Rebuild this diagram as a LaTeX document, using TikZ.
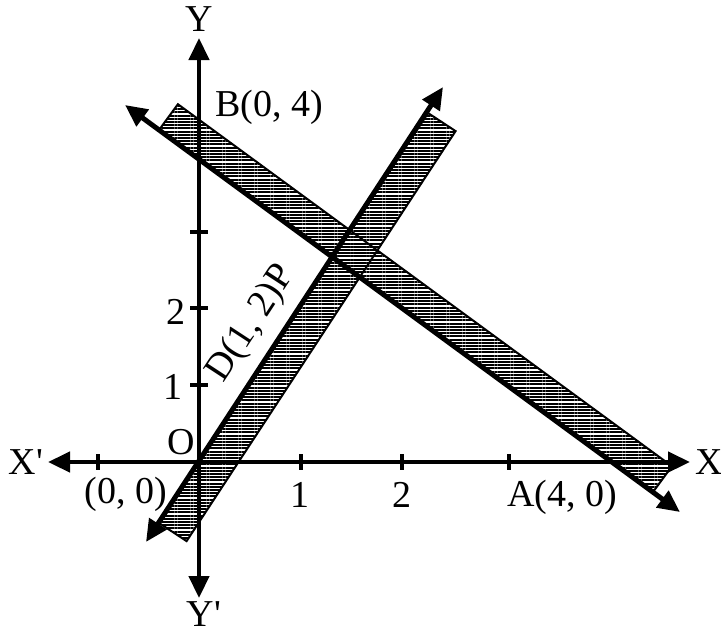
\documentclass[tikz,border=0pt]{standalone}
\usepackage{fontspec}
\setmainfont{Liberation Serif}
\usetikzlibrary{arrows.meta,patterns.meta}
\begin{document}
\begin{tikzpicture}[x=0.5pt,y=-0.5pt,
  tip/.tip={Triangle[length=11pt,width=10pt]},
  axis/.style={line width=2.2pt,tip-tip},
  graphline/.style={line width=2.5pt,tip-tip},
  band/.style={line width=1pt,pattern={Lines[angle=0,distance=1.6pt,line width=0.95pt]}},
  tick/.style={line width=2.2pt},
  lbl/.style={font=\fontsize{19}{22}\selectfont,inner sep=0pt}]
\useasboundingbox (0,0) rectangle (721,634);
% coordinates
\coordinate (O) at (199,462);
\coordinate (Xl) at (48,462);
\coordinate (Xr) at (690,462);
\coordinate (Yt) at (199,38);
\coordinate (Yb) at (199,598);
\coordinate (L1a) at (125,105);
\coordinate (L1b) at (680,512);
\coordinate (L2a) at (146,542);
\coordinate (L2b) at (443,87);
% bands
\coordinate (B1a) at (159,130);
\coordinate (B1b) at (177.9,104.2);
\coordinate (B1c) at (671.9,466.2);
\coordinate (B1d) at (653,492);
\coordinate (B2a) at (428,113);
\coordinate (B2b) at (455.6,131.1);
\coordinate (B2c) at (186.6,541.1);
\coordinate (B2d) at (159,523);
\draw[band] (B1a) -- (B1b) -- (B1c) -- (B1d) -- cycle;
\draw[band] (B2a) -- (B2b) -- (B2c) -- (B2d) -- cycle;
% lines
\draw[graphline] (L1a) -- (L1b);
\draw[graphline] (L2a) -- (L2b);
% axes
\draw[axis] (Xl) -- (Xr);
\draw[axis] (Yb) -- (Yt);
% ticks
\foreach \x/\n in {98/tx0,301/tx1,402/tx2,509/tx4}{
  \coordinate (\n a) at (\x,454); \coordinate (\n b) at (\x,470);
  \draw[tick] (\n a) -- (\n b);}
\foreach \y/\n in {232/ty3,308/ty2,385/ty1}{
  \coordinate (\n a) at (190,\y); \coordinate (\n b) at (208,\y);
  \draw[tick] (\n a) -- (\n b);}
% labels
\node[lbl] (lY) at (199,19) {Y};
\node[lbl] (lYp) at (204,614) {Y\textquotesingle};
\node[lbl] (lXp) at (26,462) {X\textquotesingle};
\node[lbl] (lX) at (709,462) {X};
\node[lbl] (lO) at (181,442) {O};
\node[lbl] (l00) at (126,494) {(0, 0)};
\node[lbl] (lx1) at (300,495) {1};
\node[lbl] (lx2) at (402,495) {2};
\node[lbl] (lA) at (562,497) {A(4, 0)};
\node[lbl] (ly1) at (173,387) {1};
\node[lbl] (ly2) at (176,312) {2};
\node[lbl] (lB) at (269,107) {B(0, 4)};
\node[lbl,rotate=56.8] (lD) at (252,324) {D(1, 2)P};
\end{tikzpicture}
\end{document}
